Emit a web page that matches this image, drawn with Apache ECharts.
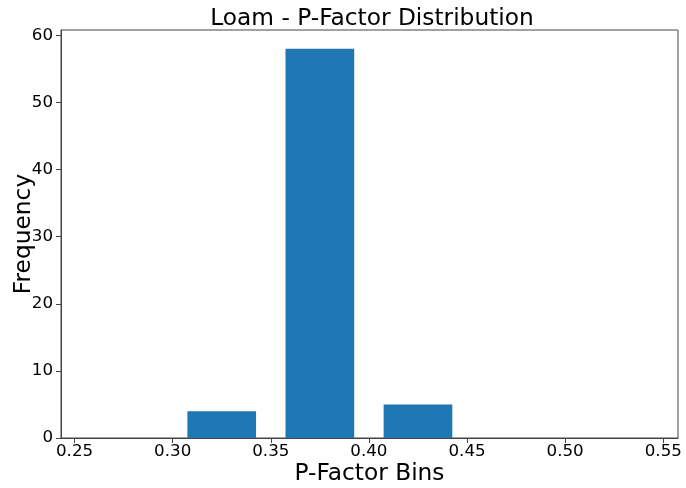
<!DOCTYPE html>
<html>
<head>
<meta charset="utf-8">
<script src="https://cdn.jsdelivr.net/npm/echarts@6/dist/echarts.min.js"></script>
<style>html,body{margin:0;padding:0;background:#fff}#c{width:686px;height:488px}</style>
</head>
<body>
<div id="c"></div>
<script>
// Data
const binStarts = [0.25, 0.30, 0.35, 0.40, 0.45, 0.50];
const binWidth = 0.05;
const counts = [0, 4, 58, 5, 0, 0];
const xTicks = [0.25, 0.30, 0.35, 0.40, 0.45, 0.50, 0.55];
const yTicks = [0, 10, 20, 30, 40, 50, 60];

const rwidth = 0.7;
const font = '"DejaVu Sans", sans-serif';
const data = binStarts.map((s, i) => [s, s + binWidth, counts[i]]);

const chart = echarts.init(document.getElementById('c'), null, {renderer: 'canvas'});
chart.setOption({
  animation: false,
  backgroundColor: '#fff',
  title: {
    text: 'Loam - P-Factor Distribution',
    left: 367, textAlign: 'center', top: 2,
    textStyle: {fontFamily: font, fontSize: 23.3, fontWeight: 'normal', color: '#000'}
  },
  grid: {left: 61, right: 8, top: 30, bottom: 50, containLabel: false, outerBoundsMode: 'none',
    show: true, borderColor: '#444', borderWidth: 1, backgroundColor: '#fff'},
  xAxis: {
    type: 'value', min: 0.2431, max: 0.5575,
    name: 'P-Factor Bins', nameLocation: 'middle', nameGap: 24, nameMoveOverlap: false,
    nameTextStyle: {fontFamily: font, fontSize: 23.3, color: '#000'},
    axisLine: {show: true, lineStyle: {color: '#444', width: 1}},
    axisTick: {show: true, length: 5, inside: false, customValues: xTicks, lineStyle: {color: '#444'}},
    axisLabel: {customValues: xTicks, formatter: v => v.toFixed(2), fontFamily: font, fontSize: 16.7, color: '#000', margin: 5},
    splitLine: {show: false}
  },
  yAxis: {
    type: 'value', min: 0, max: 60.8,
    name: 'Frequency', nameLocation: 'middle', nameGap: 26, nameMoveOverlap: false,
    nameTextStyle: {fontFamily: font, fontSize: 23.3, color: '#000'},
    axisLine: {show: true, lineStyle: {color: '#444', width: 1}},
    axisTick: {show: true, length: 5, customValues: yTicks, lineStyle: {color: '#444'}},
    axisLabel: {customValues: yTicks, fontFamily: font, fontSize: 16.7, color: '#000', margin: 8},
    splitLine: {show: false}
  },
  series: [{
    type: 'custom',
    data: data,
    encode: {x: [0, 1], y: 2},
    renderItem: function (params, api) {
      const s = api.value(0), e = api.value(1), h = api.value(2);
      const pad = (e - s) * (1 - rwidth) / 2;
      const p0 = api.coord([s + pad, h]);
      const p1 = api.coord([e - pad, 0]);
      return {
        type: 'rect',
        shape: {x: p0[0], y: p0[1], width: p1[0] - p0[0], height: p1[1] - p0[1]},
        style: {fill: '#1f77b4'}
      };
    }
  }]
});
</script>
</body>
</html>
